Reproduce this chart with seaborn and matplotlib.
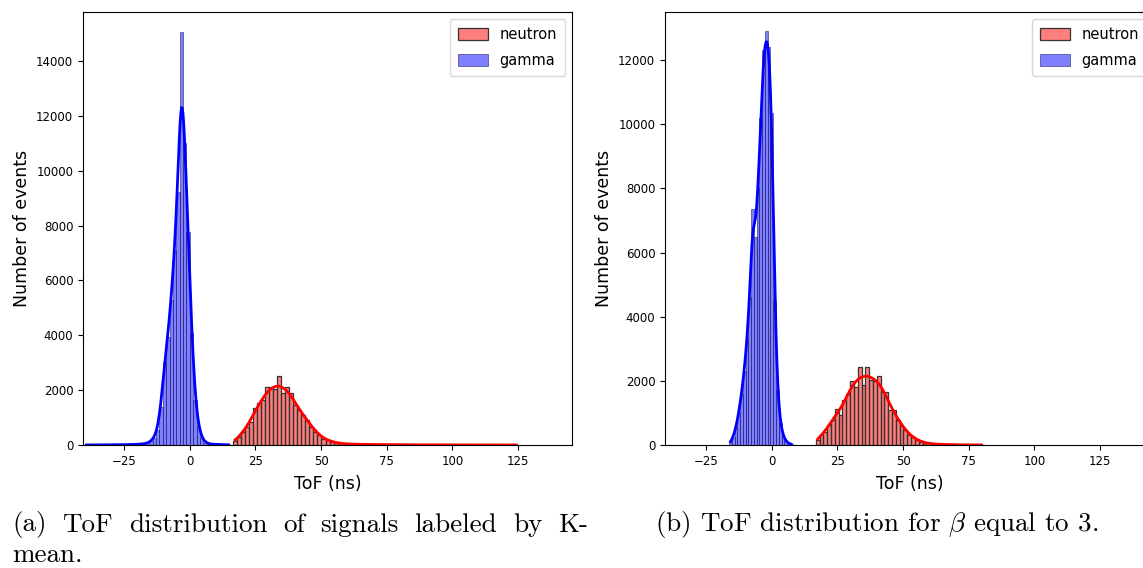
import numpy as np
import pandas as pd
import matplotlib
matplotlib.use("Agg")
import matplotlib.pyplot as plt
import seaborn as sns

# (a) K-mean labelled ToF histograms: first bin edge, bin width, counts per bin
gamma_a_bin0 = -39.92
gamma_a_binw = 1.29
gamma_a_counts = [3, 4, 3, 5, 4, 6, 5, 7, 8, 9, 10, 12, 14, 16, 20, 25, 32, 45,
                  70, 130, 260, 550, 1400, 3040, 3950, 5290, 7110, 9240,
                  15050, 11000, 7780, 4080, 1640, 670, 250, 90, 45, 30, 25,
                  20, 15, 12, 8]

neutron_a_bin0 = 16.5
neutron_a_binw = 1.53
neutron_a_counts = [160, 280, 490, 670, 850, 1340, 1520, 1640, 2100, 2100,
                    2030, 2515, 1880, 2100, 1880, 1460, 1280, 1090, 910, 670,
                    490, 360, 210, 180, 120, 85, 60, 45, 38, 32, 28, 25, 22,
                    20, 18, 16, 15, 14, 13, 12, 11, 10, 10, 9, 9, 8, 8, 7, 7,
                    6, 6, 6, 5, 5, 5, 4, 4, 4, 4, 3, 3, 3, 3, 3, 2, 2, 2, 2, 2,
                    2, 1]

# (b) beta = 3
gamma_b_bin0 = -16.2
gamma_b_binw = 1.05
gamma_b_counts = [80, 250, 550, 1000, 1600, 2300, 3300, 4600, 7350, 6500,
                  8000, 10200, 12300, 12900, 12400, 10350, 4500, 1700, 700,
                  300, 130, 50, 20]

neutron_b_bin0 = 16.8
neutron_b_binw = 1.45
neutron_b_counts = [155, 340, 415, 610, 780, 1110, 935, 1400, 1590, 2000,
                    1820, 2440, 1870, 2440, 2030, 2000, 2150, 1660, 1660, 1090,
                    1090, 780, 620, 470, 310, 240, 155, 100, 70, 50, 35, 28,
                    22, 18, 14, 11, 9, 7, 6, 5, 4, 3, 2, 2]

W, H = 1143, 568
fig = plt.figure(figsize=(W / 100, H / 100), dpi=100)
plt.rcParams['mathtext.fontset'] = 'cm'

ax1 = fig.add_axes([83 / W, 1 - 445 / H, 489 / W, (445 - 12) / H])
ax2 = fig.add_axes([665 / W, 1 - 445 / H, 489 / W, (445 - 12) / H])


def draw_hist(ax, bin0, binw, counts, color, label, lw, edge, bw):
    n = len(counts)
    centers = bin0 + binw * (np.arange(n) + 0.5)
    df = pd.DataFrame({"tof": centers, "n": counts})
    sns.histplot(data=df, x="tof", weights="n", binwidth=binw,
                 binrange=(bin0, bin0 + binw * n), color=color,
                 alpha=0.5, edgecolor=edge, linewidth=lw, kde=True,
                 kde_kws={"bw_adjust": bw}, line_kws={"linewidth": 2},
                 label=label, ax=ax)


draw_hist(ax1, neutron_a_bin0, neutron_a_binw, neutron_a_counts, "red",
          "neutron", 0.9, "#333333", 0.4)
draw_hist(ax1, gamma_a_bin0, gamma_a_binw, gamma_a_counts, "blue",
          "gamma", 0.4, "#20206a", 0.45)
draw_hist(ax2, neutron_b_bin0, neutron_b_binw, neutron_b_counts, "red",
          "neutron", 0.9, "#333333", 0.45)
draw_hist(ax2, gamma_b_bin0, gamma_b_binw, gamma_b_counts, "blue",
          "gamma", 0.4, "#20206a", 0.35)

for ax, ytop in [(ax1, 15786), (ax2, 13500)]:
    ax.set_xlim(-40.6, 145.5)
    ax.set_ylim(0, ytop)
    ax.set_xticks([-25, 0, 25, 50, 75, 100, 125])
    ax.tick_params(labelsize=8.5)
    ax.set_xlabel("ToF (ns)", fontsize=12.5, labelpad=5)
    ax.set_ylabel("Number of events", fontsize=12.5)
    ax.legend(loc="upper right", fontsize=10.5, labelspacing=0.73,
              borderpad=0.55, handleheight=0.85)

# captions; first line of (a) is justified between x=12 and x=588 px
words = ["(a)", "ToF", "distribution", "of", "signals", "labeled", "by", "K-"]
renderer = fig.canvas.get_renderer()
texts = [fig.text(0, 1 - 525 / H, w_, family="cmr10", fontsize=19.5,
                  va="center") for w_ in words]
widths = [t.get_window_extent(renderer).width for t in texts]
gap = (588 - 12 - sum(widths)) / (len(words) - 1)
x_ = 12
for t, w_ in zip(texts, widths):
    t.set_x(x_ / W)
    x_ += w_ + gap
fig.text(12 / W, 1 - 555 / H, "mean.", family="cmr10", fontsize=19.5, va="center")
fig.text(877 / W, 1 - 525 / H, r"(b) ToF distribution for $\beta$ equal to 3.",
         family="cmr10", fontsize=19.5, va="center", ha="center")

fig.savefig("out.png", dpi=100)
